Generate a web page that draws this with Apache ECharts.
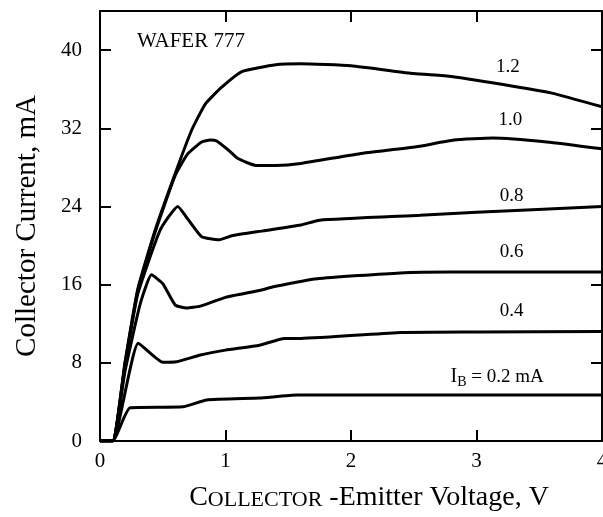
<!DOCTYPE html>
<html>
<head>
<meta charset="utf-8">
<title>Wafer 777</title>
<style>
  html, body { margin: 0; padding: 0; background: #fff; }
  #chart { width: 603px; height: 517px; }
</style>
</head>
<body>
<div id="chart"></div>
<script src="https://cdn.jsdelivr.net/npm/echarts@6/dist/echarts.min.js"></script>
<script>
// collector current (mA) vs collector-emitter voltage (V), one list per base current
var ib02 = [[0,0],[0.1,0],[0.24,3.4],[0.66,3.5],[0.85,4.2],[1.27,4.4],[1.57,4.7],[4,4.7]];
var ib04 = [[0,0],[0.1,0],[0.305,10.0],[0.5,8.05],[0.61,8.1],[0.8,8.8],[1.0,9.3],[1.27,9.8],[1.47,10.5],[1.6,10.5],[2.4,11.1],[3.0,11.15],[4,11.2]];
var ib06 = [[0,0],[0.1,0],[0.2,7.2],[0.32,14],[0.41,17],[0.5,16.1],[0.6,13.9],[0.69,13.6],[0.8,13.8],[1.0,14.7],[1.27,15.4],[1.39,15.8],[1.73,16.6],[2.39,17.2],[2.79,17.3],[4,17.3]];
var ib08 = [[0,0],[0.1,0],[0.2,7.8],[0.3,15],[0.48,21.6],[0.62,24.0],[0.7,22.7],[0.81,20.9],[0.95,20.6],[1.05,21.0],[1.3,21.5],[1.6,22.1],[1.75,22.6],[2.55,23.1],[3.0,23.4],[4,24.0]];
var ib10 = [[0,0],[0.1,0],[0.2,8],[0.3,15.3],[0.44,21.4],[0.6,27.2],[0.7,29.4],[0.81,30.6],[0.88,30.8],[0.93,30.7],[1.02,29.8],[1.1,28.9],[1.24,28.2],[1.4,28.2],[1.6,28.4],[2.07,29.4],[2.52,30.1],[2.82,30.8],[3.13,31.0],[3.56,30.6],[4,29.9]];
var ib12 = [[0,0],[0.1,0],[0.2,8.1],[0.3,15.5],[0.44,21.6],[0.6,27.4],[0.73,31.8],[0.84,34.5],[0.97,36.2],[1.13,37.8],[1.4,38.5],[1.6,38.6],[2.0,38.4],[2.5,37.6],[2.8,37.3],[3.2,36.5],[3.6,35.6],[4,34.2]];

var curves = [ib02, ib04, ib06, ib08, ib10, ib12];
var curveNames = ['0.2', '0.4', '0.6', '0.8', '1.0', '1.2'];
var labelSpots = [[3.165, 6.55], [3.28, 13.3], [3.28, 19.3], [3.28, 25.1], [3.27, 32.8], [3.25, 38.3]];

var serif = '"Liberation Serif", "DejaVu Serif", serif';

var chart = echarts.init(document.getElementById('chart'));

var series = curves.map(function (pts, i) {
  var txt = i === 0 ? '{i|I}{s|B}{t| = 0.2 mA}' : curveNames[i];
  return {
    type: 'line',
    name: curveNames[i],
    data: pts,
    showSymbol: false,
    symbol: 'none',
    smooth: 0.15,
    lineStyle: { color: '#000', width: 3 },
    silent: true,
    markPoint: {
      symbol: 'circle',
      symbolSize: 0,
      silent: true,
      data: [{ coord: labelSpots[i] }],
      label: {
        show: true,
        position: 'inside',
        formatter: txt,
        color: '#000',
        fontFamily: serif,
        fontSize: 19,
        rich: {
          i: { fontFamily: serif, fontSize: 20, color: '#000', lineHeight: 22 },
          s: { fontFamily: serif, fontSize: 14, color: '#000', padding: [10, 0, 0, 0], lineHeight: 22 },
          t: { fontFamily: serif, fontSize: 19, color: '#000', lineHeight: 22 }
        }
      }
    }
  };
});

function frameAxis(extra) {
  var a = {
    type: 'value',
    axisLine: { onZero: false, lineStyle: { color: '#000', width: 2 } },
    axisTick: { inside: true, length: 11, lineStyle: { color: '#000', width: 2 } },
    splitLine: { show: false },
    axisLabel: { show: false }
  };
  for (var k in extra) a[k] = extra[k];
  return a;
}

var option = {
  animation: false,
  backgroundColor: '#fff',
  grid: { left: 100, right: 1, top: 11, bottom: 76, outerBoundsMode: 'none', containLabel: false },
  xAxis: [
    frameAxis({
      min: 0, max: 4, interval: 1, position: 'bottom',
      axisLabel: { color: '#000', fontFamily: serif, fontSize: 21, margin: 10 },
      name: '{a|C}{b|OLLECTOR}{c| -Emitter Voltage, V}',
      nameLocation: 'middle',
      nameGap: 43,
      nameTextStyle: {
        padding: [0, 0, 0, 36],
        rich: {
          a: { fontFamily: serif, fontSize: 28, color: '#000' },
          b: { fontFamily: serif, fontSize: 22, color: '#000', padding: [4, 0, 0, 0] },
          c: { fontFamily: serif, fontSize: 28, color: '#000' }
        }
      }
    }),
    frameAxis({ min: 0, max: 4, interval: 1, position: 'top' })
  ],
  yAxis: [
    frameAxis({
      min: 0, max: 44, interval: 8, position: 'left',
      axisLabel: { color: '#000', fontFamily: serif, fontSize: 21, margin: 18, showMaxLabel: false },
      name: 'Collector Current, mA',
      nameLocation: 'middle',
      nameRotate: 90,
      nameGap: 58,
      nameTextStyle: { color: '#000', fontFamily: serif, fontSize: 29 }
    }),
    frameAxis({ min: 0, max: 44, interval: 8, position: 'right' })
  ],
  graphic: [{
    type: 'text', left: 137, top: 31,
    style: { text: 'WAFER 777', fill: '#000', font: '21px ' + serif }
  }],
  series: series
};

chart.setOption(option);
</script>
</body>
</html>
